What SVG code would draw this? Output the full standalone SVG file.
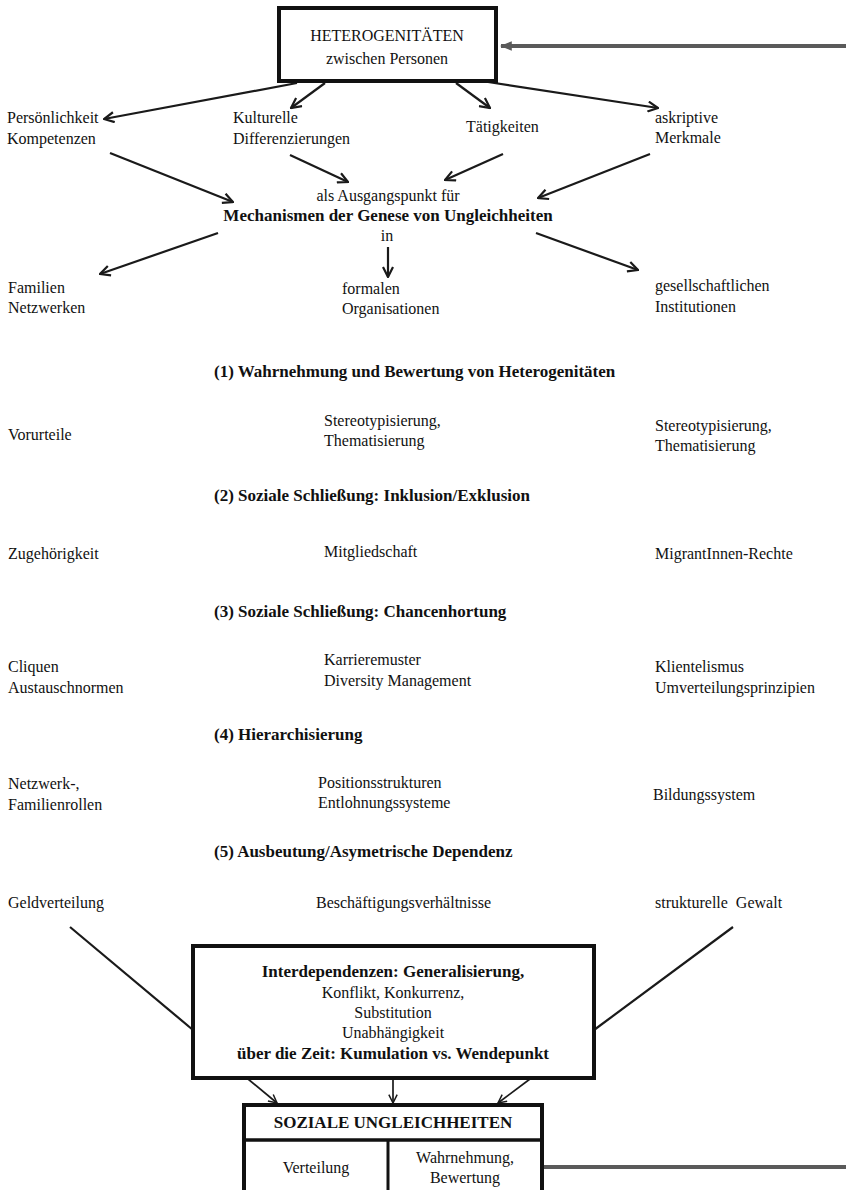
<svg xmlns="http://www.w3.org/2000/svg" width="846" height="1190" viewBox="0 0 846 1190">
<style>
text{font-family:"Liberation Serif","Times New Roman",serif;font-size:16px;fill:#111}
.b{font-weight:bold;font-size:17px}
.c{text-anchor:middle}
.box{fill:#fff;stroke:#111;stroke-width:4}
.ln{stroke:#1a1a1a;stroke-width:2.2;fill:none}
.lnt{stroke:#1a1a1a;stroke-width:1.7;fill:none}
.gray{stroke:#5a5a5a;stroke-width:4;fill:none}
</style>
<defs>
<marker id="arr" viewBox="0 0 12 12" refX="11" refY="6" markerWidth="12" markerHeight="12" markerUnits="userSpaceOnUse" orient="auto">
<path d="M1,1 L11,6 L1,11" fill="none" stroke="#1a1a1a" stroke-width="2.2"/>
</marker>
<marker id="arrs" viewBox="0 0 12 12" refX="11" refY="6" markerWidth="10" markerHeight="10" markerUnits="userSpaceOnUse" orient="auto">
<path d="M1,1 L11,6 L1,11" fill="none" stroke="#1a1a1a" stroke-width="1.8"/>
</marker>
<marker id="garr" viewBox="0 0 10 10" refX="9" refY="5" markerWidth="12" markerHeight="12" markerUnits="userSpaceOnUse" orient="auto">
<path d="M0,1 L10,5 L0,9 Z" fill="#5a5a5a"/>
</marker>
</defs>

<g id="connectors">
<line class="gray" x1="846" y1="46" x2="501" y2="46" marker-end="url(#garr)"/>
<line class="ln" x1="297" y1="83" x2="104" y2="119" marker-end="url(#arr)"/>
<line class="ln" x1="325" y1="83" x2="291" y2="108" marker-end="url(#arr)"/>
<line class="ln" x1="456" y1="83" x2="490" y2="108" marker-end="url(#arr)"/>
<line class="ln" x1="488" y1="82" x2="658" y2="108" marker-end="url(#arr)"/>
<line class="ln" x1="110" y1="153" x2="233" y2="202" marker-end="url(#arr)"/>
<line class="ln" x1="290" y1="155" x2="348" y2="182" marker-end="url(#arr)"/>
<line class="ln" x1="503" y1="154" x2="445" y2="180" marker-end="url(#arr)"/>
<line class="ln" x1="650" y1="154" x2="538" y2="198" marker-end="url(#arr)"/>
<line class="ln" x1="218" y1="233" x2="100" y2="274" marker-end="url(#arr)"/>
<line class="ln" x1="388" y1="247" x2="388" y2="277" marker-end="url(#arr)"/>
<line class="ln" x1="536" y1="233" x2="638" y2="270" marker-end="url(#arr)"/>
<line class="ln" x1="70" y1="927" x2="193" y2="1030"/>
<line class="ln" x1="733" y1="927" x2="594" y2="1030"/>
<line class="lnt" x1="248" y1="1079" x2="277" y2="1103" marker-end="url(#arrs)"/>
<line class="lnt" x1="393" y1="1079" x2="393" y2="1103" marker-end="url(#arrs)"/>
<line class="lnt" x1="530" y1="1079" x2="498" y2="1103" marker-end="url(#arrs)"/>
<line class="gray" x1="544" y1="1167" x2="846" y2="1167"/>
</g>

<g id="heterogenitaeten">
<rect class="box" x="279" y="8" width="217" height="73"/>
<text class="c" x="387" y="41">HETEROGENITÄTEN</text>
<text class="c" x="387" y="64">zwischen Personen</text>
</g>

<g id="persoenlichkeit"><text x="7" y="123">Persönlichkeit</text><text x="7" y="144">Kompetenzen</text></g>
<g id="kulturelle"><text x="233" y="123">Kulturelle</text><text x="233" y="144">Differenzierungen</text></g>
<g id="taetigkeiten"><text x="466" y="132">Tätigkeiten</text></g>
<g id="askriptive"><text x="655" y="123">askriptive</text><text x="655" y="143">Merkmale</text></g>

<g id="mechanismen">
<text class="c" x="388" y="201">als Ausgangspunkt für</text>
<text class="c b" x="388" y="221">Mechanismen der Genese von Ungleichheiten</text>
<text class="c" x="387" y="241">in</text>
</g>

<g id="familien"><text x="8" y="293">Familien</text><text x="8" y="313">Netzwerken</text></g>
<g id="organisationen"><text x="342" y="294">formalen</text><text x="342" y="314">Organisationen</text></g>
<g id="institutionen"><text x="655" y="291">gesellschaftlichen</text><text x="655" y="312">Institutionen</text></g>

<g id="h1"><text class="b" x="214" y="377">(1) Wahrnehmung und Bewertung von Heterogenitäten</text></g>
<g id="r1l"><text x="8" y="440">Vorurteile</text></g>
<g id="r1m"><text x="324" y="426">Stereotypisierung,</text><text x="324" y="446">Thematisierung</text></g>
<g id="r1r"><text x="655" y="431">Stereotypisierung,</text><text x="655" y="451">Thematisierung</text></g>

<g id="h2"><text class="b" x="214" y="501">(2) Soziale Schließung: Inklusion/Exklusion</text></g>
<g id="r2l"><text x="8" y="559">Zugehörigkeit</text></g>
<g id="r2m"><text x="324" y="557">Mitgliedschaft</text></g>
<g id="r2r"><text x="655" y="559">MigrantInnen-Rechte</text></g>

<g id="h3"><text class="b" x="214" y="617">(3) Soziale Schließung: Chancenhortung</text></g>
<g id="r3l"><text x="8" y="672">Cliquen</text><text x="8" y="693">Austauschnormen</text></g>
<g id="r3m"><text x="324" y="665">Karrieremuster</text><text x="324" y="686">Diversity Management</text></g>
<g id="r3r"><text x="655" y="672">Klientelismus</text><text x="655" y="693">Umverteilungsprinzipien</text></g>

<g id="h4"><text class="b" x="214" y="740">(4) Hierarchisierung</text></g>
<g id="r4l"><text x="8" y="789">Netzwerk-,</text><text x="8" y="810">Familienrollen</text></g>
<g id="r4m"><text x="318" y="788">Positionsstrukturen</text><text x="318" y="808">Entlohnungssysteme</text></g>
<g id="r4r"><text x="653" y="800">Bildungssystem</text></g>

<g id="h5"><text class="b" x="214" y="857">(5) Ausbeutung/Asymetrische Dependenz</text></g>
<g id="r5l"><text x="8" y="908">Geldverteilung</text></g>
<g id="r5m"><text x="316" y="908">Beschäftigungsverhältnisse</text></g>
<g id="r5r"><text x="655" y="908" xml:space="preserve">strukturelle  Gewalt</text></g>

<g id="interdependenzen">
<rect class="box" x="193" y="946" width="401" height="132"/>
<text class="c b" x="393" y="977">Interdependenzen: Generalisierung,</text>
<text class="c" x="393" y="998">Konflikt, Konkurrenz,</text>
<text class="c" x="393" y="1018">Substitution</text>
<text class="c" x="393" y="1038">Unabhängigkeit</text>
<text class="c b" x="393" y="1059">über die Zeit: Kumulation vs. Wendepunkt</text>
</g>

<g id="soziale-ungleichheiten">
<rect class="box" x="244" y="1105" width="298" height="110"/>
<line x1="244" y1="1140" x2="542" y2="1140" stroke="#111" stroke-width="3.5"/>
<line x1="388" y1="1140" x2="388" y2="1200" stroke="#111" stroke-width="3"/>
<text class="c b" x="393" y="1128">SOZIALE UNGLEICHHEITEN</text>
<text class="c" x="316" y="1173">Verteilung</text>
<text class="c" x="465" y="1163">Wahrnehmung,</text>
<text class="c" x="465" y="1183">Bewertung</text>
</g>
</svg>
